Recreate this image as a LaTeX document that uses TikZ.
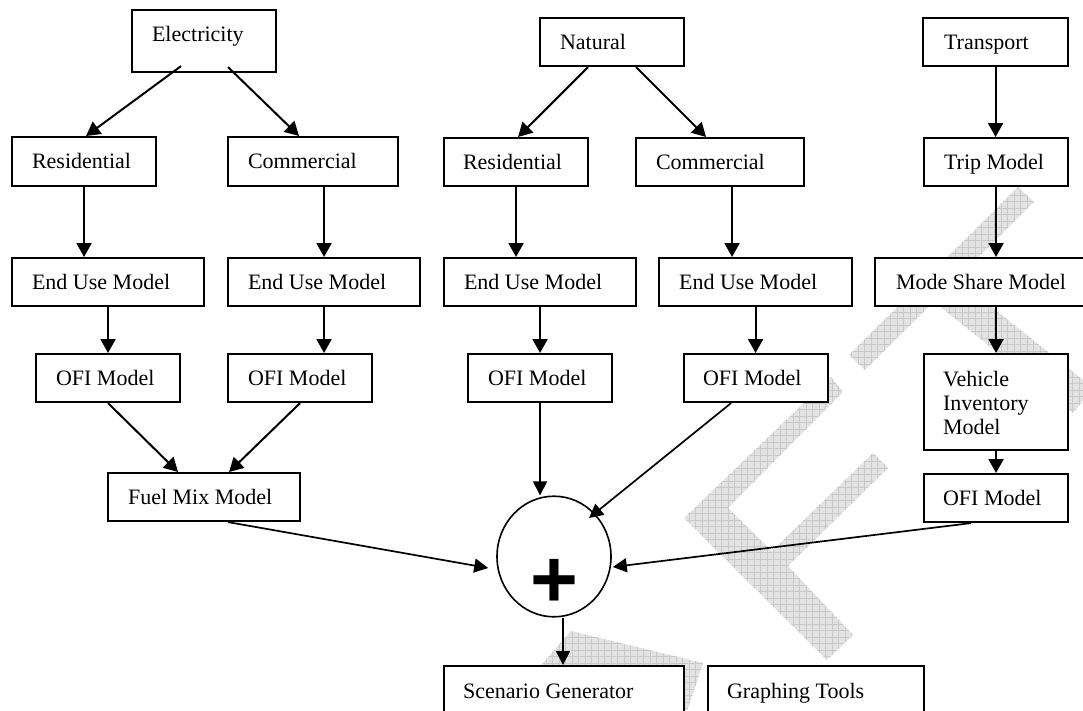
\documentclass[tikz,border=0pt]{standalone}
\usepackage{fontspec}
\setmainfont{Liberation Serif}
\newfontfamily\plusfont{Liberation Sans}
\usetikzlibrary{arrows.meta,shapes.geometric}
\newcommand\wmpiece[1]{\begin{scope}\clip #1; \fill[black!11] (0,0) rectangle (1083,710); \draw[black!21, line width=0.4pt, step=6.5pt] (0,710) grid (1083,0);\end{scope}}
\begin{document}
\begin{tikzpicture}[x=1pt,y=-1pt,
  bx/.style={draw, line width=2.1pt, fill=white, anchor=north west, inner xsep=0pt, inner ysep=0pt,
    align=flush left, text height=31pt, text depth=17pt, font=\fontsize{22}{24}\selectfont},
  arr/.style={line width=2pt, -{Triangle[length=14pt,width=15pt]}},
  arrc/.style={line width=1.7pt, -{Triangle[length=14pt,width=14pt]}}]
\useasboundingbox (0,0) rectangle (1083,710);
\clip (0,0) rectangle (1083,710);
\fill[white] (0,0) rectangle (1083,710);
% watermark pieces
\wmpiece{(849,355) -- (1018,187) -- (1034,202) -- (865,370) -- cycle}
\wmpiece{(930,298.6) -- (975,293.6) -- (1093,388) -- (1073,413) -- cycle}
\wmpiece{(684,518) -- (831,377) -- (843,392) -- (728,508) -- (772,551) -- (873,453) -- (888,468) -- (788,566) -- (853,635) -- (827,660) -- cycle}
\wmpiece{(571,631) -- (703,663) -- (684,720) -- (493,720) -- cycle}
% boxes
\node[bx, text width=144pt, text depth=31pt] (elec) at (131,9) {\hspace*{20pt}Electricity};
\node[bx, text width=144pt] (nat) at (539,17) {\hspace*{20pt}Natural};
\node[bx, text width=145pt] (trans) at (922,17) {\hspace*{21pt}Transport};
\node[bx, text width=144pt, text depth=18pt] (eres) at (11,136) {\hspace*{20pt}Residential};
\node[bx, text width=170pt, text depth=18pt] (ecom) at (227,136) {\hspace*{20pt}Commercial};
\node[bx, text width=144pt] (nres) at (443,137) {\hspace*{19pt}Residential};
\node[bx, text width=168pt] (ncom) at (635,137) {\hspace*{20pt}Commercial};
\node[bx, text width=144pt] (trip) at (923,137) {\hspace*{20pt}Trip Model};
\node[bx, text width=192pt] (eeu) at (11,257) {\hspace*{20pt}End Use Model};
\node[bx, text width=192pt] (e2eu) at (227,257) {\hspace*{20pt}End Use Model};
\node[bx, text width=192pt] (neu) at (443,257) {\hspace*{20pt}End Use Model};
\node[bx, text width=193pt] (n2eu) at (658,257) {\hspace*{20pt}End Use Model};
\node[bx, text width=211pt] (ms) at (874,257) {\hspace*{21pt}Mode Share Model};
\node[bx, text width=144pt] (eofi) at (35,353) {\hspace*{20pt}OFI Model};
\node[bx, text width=144pt] (e2ofi) at (227,353) {\hspace*{20pt}OFI Model};
\node[bx, text width=144pt] (nofi) at (467,353) {\hspace*{20pt}OFI Model};
\node[bx, text width=144pt] (n2ofi) at (683,353) {\hspace*{19pt}OFI Model};
\node[bx, text width=144pt, text height=32pt, text depth=64pt] (veh) at (923,353)
  {\hspace*{19pt}Vehicle\\\hspace*{19pt}Inventory\\\hspace*{19pt}Model};
\node[bx, text width=144pt] (tofi) at (923,473) {\hspace*{19pt}OFI Model};
\node[bx, text width=192pt] (fuel) at (107,472) {\hspace*{20pt}Fuel Mix Model};
\node[bx, text width=240pt, text height=32pt, text depth=40pt] (scen) at (443,665) {\hspace*{19pt}Scenario Generator};
\node[bx, text width=216pt, text height=32pt, text depth=40pt] (graph) at (707,665) {\hspace*{19pt}Graphing Tools};
% summing node
\node[ellipse, draw, line width=1.6pt, fill=white, minimum width=114pt, minimum height=120.6pt, inner sep=0pt] (sum) at (554,556.5) {};
\node[font=\plusfont\bfseries\fontsize{82}{82}\selectfont, inner sep=0pt] (plus) at (554,583) {+};
% connectors
\draw[arr] ([xshift=-23pt,yshift=7pt]elec.south) -- ([xshift=2pt]eres.north);
\draw[arr] ([xshift=24pt,yshift=6pt]elec.south) -- ([xshift=-14pt]ecom.north);
\draw[arr] ([xshift=-24pt]nat.south) -- ([xshift=2pt]nres.north);
\draw[arr] ([xshift=24pt]nat.south) -- ([xshift=-14pt]ncom.north);
\draw[arr] (trans.south) -- (trans.south |- trip.north);
\draw[arr] (eres.south) -- (eres.south |- eeu.north);
\draw[arr] (e2eu.north |- ecom.south) -- (e2eu.north);
\draw[arr] (nres.south) -- (nres.south |- neu.north);
\coordinate (c9) at ([xshift=12pt]ncom.south);
\draw[arr] (c9) -- (c9 |- n2eu.north);
\draw[arr] (trip.south) -- (trip.south |- ms.north);
\draw[arr] (eeu.south) -- (eofi.north);
\draw[arr] (e2eu.south) -- (e2eu.south |- e2ofi.north);
\draw[arr] (neu.south) -- (nofi.north);
\draw[arr] (n2eu.south) -- (n2eu.south |- n2ofi.north);
\draw[arr] (veh.north |- ms.south) -- (veh.north);
\draw[arr] (veh.south) -- (tofi.north);
\draw[arr] (eofi.south) -- ([xshift=-26pt]fuel.north);
\draw[arr] (e2ofi.south) -- ([xshift=25pt]fuel.north);
\draw[arrc] ([xshift=24pt]fuel.south) -- ([xshift=-8pt,yshift=-11.5pt]sum.west);
\draw[arrc] (nofi.south) -- (nofi.south |- sum.north);
\draw[arrc] ([xshift=-25pt]n2ofi.south) -- ([xshift=35pt,yshift=38.5pt]sum.center);
\draw[arrc] ([xshift=-25pt]tofi.south) -- ([xshift=1pt,yshift=-10.5pt]sum.east);
\coordinate (c23) at ([xshift=9pt]sum.south);
\draw[arrc] (c23) -- (c23 |- scen.north);
\end{tikzpicture}
\end{document}
